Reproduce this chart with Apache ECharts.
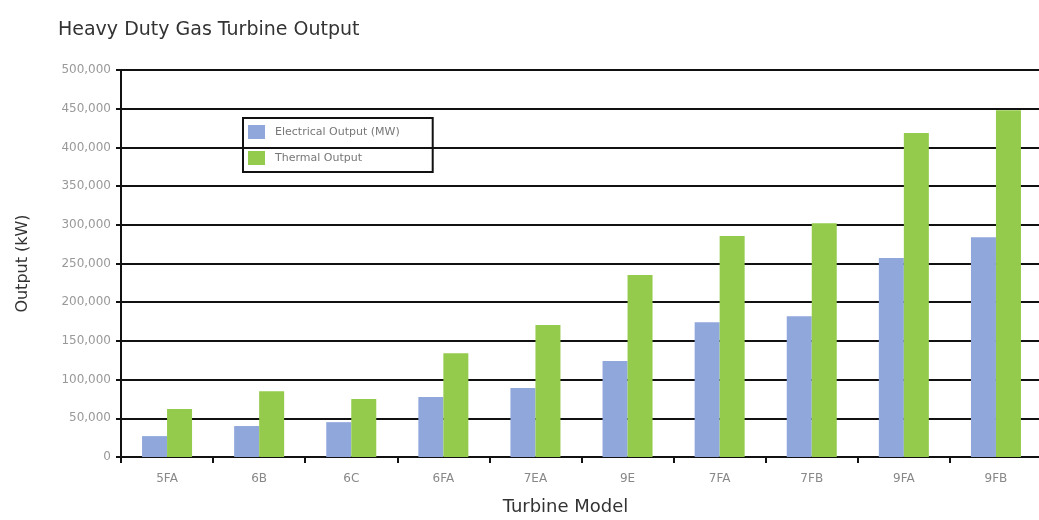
<!DOCTYPE html>
<html>
<head>
<meta charset="utf-8">
<script src="https://cdn.jsdelivr.net/npm/echarts@6/dist/echarts.min.js"></script>
<style>
html,body{margin:0;padding:0;background:#fff;}
#c{width:1039px;height:520px;}
</style>
</head>
<body>
<div id="c"></div>
<script>
var categories = ['5FA','6B','6C','6FA','7EA','9E','7FA','7FB','9FA','9FB'];
var electrical = [27000, 40000, 45000, 77500, 89000, 124000, 174000, 182000, 257000, 284000];
var thermal = [62000, 85000, 75000, 134000, 170500, 235000, 285500, 302000, 418500, 448000];
var seriesNames = ['Electrical Output (MW)', 'Thermal Output'];

var chart = echarts.init(document.getElementById('c'));
chart.setOption({
  animation: false,
  backgroundColor: '#ffffff',
  title: {
    text: 'Heavy Duty Gas Turbine Output',
    left: 53, top: 16,
    textStyle: {fontFamily: 'DejaVu Sans', fontSize: 19, fontWeight: 'normal', color: '#333'}
  },
  legend: {
    orient: 'vertical',
    left: 243, top: 118,
    padding: [7, 33, 7, 5],
    itemWidth: 17, itemHeight: 14, itemGap: 12,
    icon: 'rect',
    borderColor: '#111', borderWidth: 2,
    textStyle: {fontFamily: 'DejaVu Sans', fontSize: 11, color: '#777', padding: [0, 0, 0, 5]},
    data: seriesNames
  },
  grid: {left: 121, right: -3, top: 70, bottom: 63, containLabel: false, outerBoundsMode: 'none'},
  xAxis: {
    type: 'category',
    data: categories,
    name: 'Turbine Model',
    nameLocation: 'middle',
    nameGap: 41,
    nameTextStyle: {fontFamily: 'DejaVu Sans', fontSize: 18, color: '#333', padding: [0, 32, 0, 0]},
    axisLine: {lineStyle: {color: '#111', width: 2}},
    axisTick: {show: true, length: 6, lineStyle: {color: '#111', width: 2}},
    axisLabel: {fontFamily: 'DejaVu Sans', fontSize: 12, color: '#888', margin: 16}
  },
  yAxis: {
    type: 'value',
    min: 0, max: 500000, interval: 50000,
    name: 'Output (kW)',
    nameLocation: 'middle',
    nameGap: 90,
    nameTextStyle: {fontFamily: 'DejaVu Sans', fontSize: 16, color: '#333'},
    axisLine: {show: true, lineStyle: {color: '#111', width: 2}},
    axisTick: {show: true, length: 5, lineStyle: {color: '#111', width: 2}},
    axisLabel: {
      fontFamily: 'DejaVu Sans', fontSize: 12, color: '#999', margin: 10,
      formatter: function (v) { return v.toLocaleString('en-US'); }
    },
    splitLine: {show: true, lineStyle: {color: '#111', width: 2}}
  },
  series: [
    {name: seriesNames[0], type: 'bar', data: electrical, barWidth: 25, barGap: '0%',
     itemStyle: {color: '#8fa7db'}},
    {name: seriesNames[1], type: 'bar', data: thermal, barWidth: 25,
     itemStyle: {color: '#94cb4c'}}
  ]
});
</script>
</body>
</html>
